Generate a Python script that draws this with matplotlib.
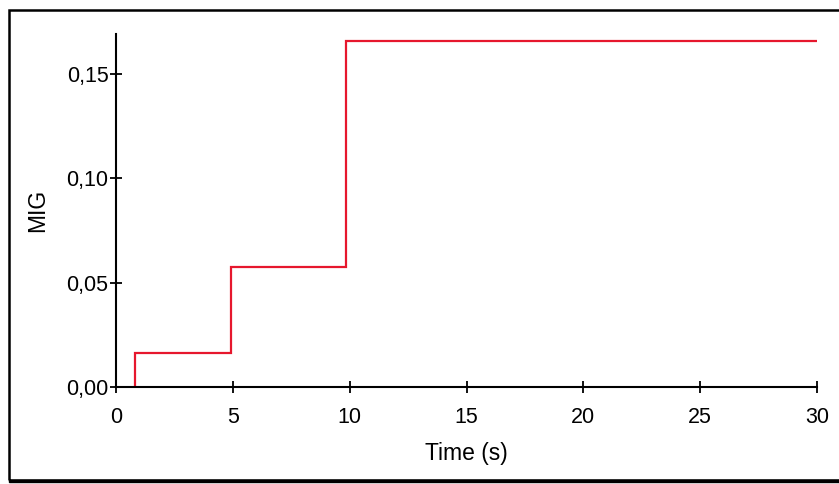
import matplotlib
matplotlib.use("Agg")
import matplotlib.pyplot as plt
from matplotlib.ticker import FuncFormatter
from matplotlib.patches import Rectangle

# data
time_s = [0.8, 0.8, 4.9, 4.9, 9.85, 9.85, 30.0]
mig = [0.0, 0.0163, 0.0163, 0.0575, 0.0575, 0.1658, 0.1658]
x_ticks = [0, 5, 10, 15, 20, 25, 30]
y_ticks = [0.00, 0.05, 0.10, 0.15]

plt.rcParams['font.family'] = ['Liberation Sans', 'DejaVu Sans']

fig = plt.figure(figsize=(8.39, 4.84), dpi=100)
ax = fig.add_axes([0.1383, 0.2004, 0.9738 - 0.1383, 0.9298 - 0.2004])

ax.plot(time_s, mig, color='#e6172d', lw=1.6, solid_joinstyle='miter')

ax.set_xlim(0, 30)
ax.set_ylim(0, 0.169)
ax.set_xticks(x_ticks)
ax.set_yticks(y_ticks)
ax.yaxis.set_major_formatter(FuncFormatter(lambda v, p: f"{v:.2f}".replace('.', ',')))

for s in ['top', 'right']:
    ax.spines[s].set_visible(False)
for s in ['left', 'bottom']:
    ax.spines[s].set_linewidth(1.5)
ax.tick_params(direction='inout', length=9, width=1.3, labelsize=15.5)
ax.tick_params(axis='y', pad=1)
ax.tick_params(axis='x', pad=10)

ax.set_xlabel('Time (s)', fontsize=16.5, labelpad=10)
ax.set_ylabel('MIG', fontsize=16.5, labelpad=12)

fig.patches.append(Rectangle((9 / 839, 1 - 480 / 484), 1 - 9 / 839 + 0.01, (480 - 10) / 484,
                             transform=fig.transFigure, fill=False, edgecolor='black',
                             linewidth=1.8, figure=fig))
fig.patches.append(Rectangle((9 / 839, 1 - 482 / 484), 1, 2 / 484,
                             transform=fig.transFigure, color='black', figure=fig))

fig.savefig('out.png', dpi=100)
